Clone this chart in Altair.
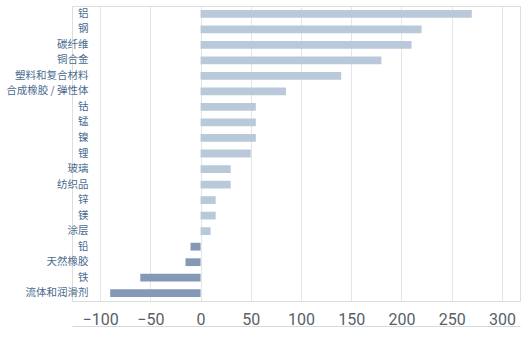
import altair as alt
import pandas as pd

materials = ["铝", "钢", "碳纤维", "铜合金", "塑料和复合材料", "合成橡胶 / 弹性体",
             "钴", "锰", "镍", "锂", "玻璃", "纺织品", "锌", "镁", "涂层",
             "铅", "天然橡胶", "铁", "流体和润滑剂"]
values = [270, 220, 210, 180, 140, 85, 55, 55, 55, 50, 30, 30, 15, 15, 10,
          -10, -15, -60, -90]
tick_values = [-100, -50, 0, 50, 100, 150, 200, 250, 300]

df = pd.DataFrame({"material": materials, "value": values})
df["sign"] = ["pos" if v >= 0 else "neg" for v in values]

chart = alt.Chart(df).mark_bar().encode(
    y=alt.Y("material:N", sort=materials,
            scale=alt.Scale(paddingInner=0.5, paddingOuter=0.25),
            axis=alt.Axis(title=None, domain=False, ticks=False, labelPadding=-16,
                          labelFontSize=10.5, labelColor="#4b6b8e",
                          labelFont="Noto Sans CJK SC")),
    x=alt.X("value:Q",
            scale=alt.Scale(domain=[-128, 318], nice=False, zero=False),
            axis=alt.Axis(title=None, values=tick_values, grid=True,
                          gridColor="#e3e5e8", gridWidth=1,
                          ticks=False, tickSize=0, domain=True, domainColor="#d6dadf",
                          domainWidth=1, offset=25, labelPadding=-15,
                          labelFontSize=16, labelColor="#5a5f66",
                          labelFont="Roboto", labelFlush=False)),
    color=alt.Color("sign:N",
                    scale=alt.Scale(domain=["pos", "neg"], range=["#b9c9d9", "#8499b6"]),
                    legend=None),
).properties(
    width=448, height=295,
    autosize=alt.AutoSizeParams(type="none"),
    padding={"left": 72, "top": 6, "right": 5, "bottom": 37},
).configure_view(stroke=None).configure(background="white")

chart.save("out.html", embed_options={"renderer": "svg", "actions": False})
